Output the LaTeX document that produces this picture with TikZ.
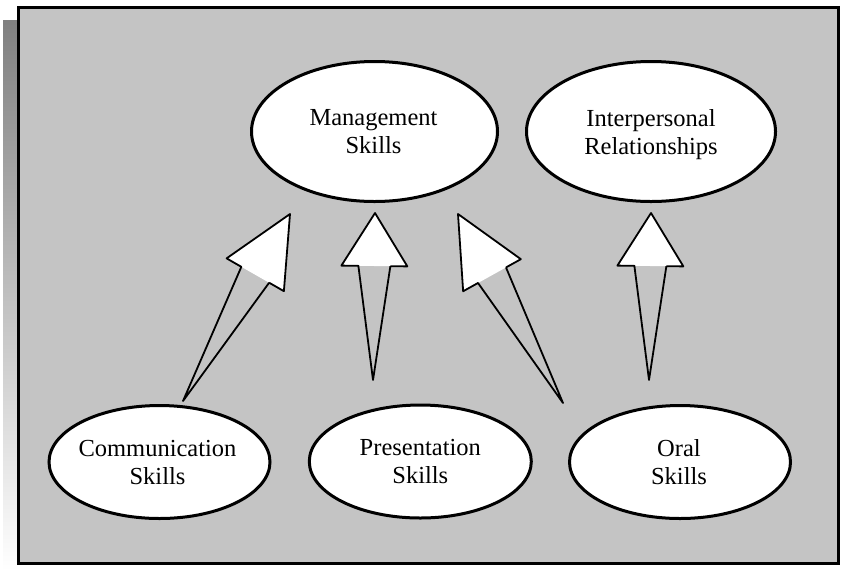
\documentclass[tikz,border=0pt]{standalone}
\usepackage{fontspec}
\setmainfont{Liberation Serif}
\usetikzlibrary{calc,shapes.geometric}
\definecolor{panel}{RGB}{196,196,196}
\definecolor{shade}{RGB}{128,128,128}
\tikzset{
  skill/.style={ellipse, draw=black, line width=3pt, fill=white, inner sep=0pt, outer sep=0pt},
  lbl/.style={align=center, inner sep=0pt, font=\fontsize{24.5}{28}\selectfont},
  arrowline/.style={draw=black, line width=1.8pt, line join=round},
}
\newcommand\skillarrow[3]{%
  \coordinate (B) at ($(#2)!#3!(#1)$);
  \coordinate (HL) at ($(B)!33pt!90:(#2)$);
  \coordinate (HR) at ($(B)!33pt!-90:(#2)$);
  \coordinate (SL) at ($(B)!16pt!90:(#2)$);
  \coordinate (SR) at ($(B)!16pt!-90:(#2)$);
  \fill[white] (HL) -- (#2) -- (HR) -- cycle;
  \draw[arrowline] (SR) -- (#1) -- (SL) -- (HL) -- (#2) -- (HR) -- (SR);
}
\newcommand\descfix{\vphantom{p}}
\begin{document}
\begin{tikzpicture}[x=1pt,y=-1pt]
\useasboundingbox (0,0) rectangle (842,571);
% shadow and panel
\fill[shade] (3,20) rectangle (824,571);
\draw[line width=3pt, fill=panel] (18.5,7.5) rectangle (838.5,563.5);

% ellipses
\node[skill, minimum width=246pt, minimum height=140pt] (mgmt) at (374.5,131.5) {};
\node[lbl] (mgmt-t) at ($(mgmt.center)+(-1,2.7)$) {Management\\Skills\descfix};
\node[skill, minimum width=249pt, minimum height=140pt] (inter) at (651,131.5) {};
\node[lbl] (inter-t) at ($(inter.center)+(0,2.7)$) {Interpersonal\\Relationships\descfix};
\node[skill, minimum width=221pt, minimum height=113pt] (comm) at (159.5,462) {};
\node[lbl] (comm-t) at ($(comm.center)+(-2,2.7)$) {Communication\\Skills\descfix};
\node[skill, minimum width=222pt, minimum height=113pt] (pres) at (420.3,461.5) {};
\node[lbl] (pres-t) at ($(pres.center)+(0,2.7)$) {Presentation\\Skills\descfix};
\node[skill, minimum width=221pt, minimum height=113pt] (oral) at (680,462) {};
\node[lbl] (oral-t) at ($(oral.center)+(-1,2.7)$) {Oral\\Skills\descfix};

% arrow ends
\coordinate (a1tail) at (183,401);
\coordinate (a1tip) at (290,214);
\coordinate (a2tail) at (373,380);
\coordinate (a2tip) at (375,213);
\coordinate (a3tail) at (563,403);
\coordinate (a3tip) at (458,214);
\coordinate (a4tail) at (649,380);
\coordinate (a4tip) at (651,213);

\skillarrow{a1tail}{a1tip}{70pt}
\skillarrow{a2tail}{a2tip}{53pt}
\skillarrow{a3tail}{a3tip}{70pt}
\skillarrow{a4tail}{a4tip}{53pt}
\end{tikzpicture}
\end{document}
